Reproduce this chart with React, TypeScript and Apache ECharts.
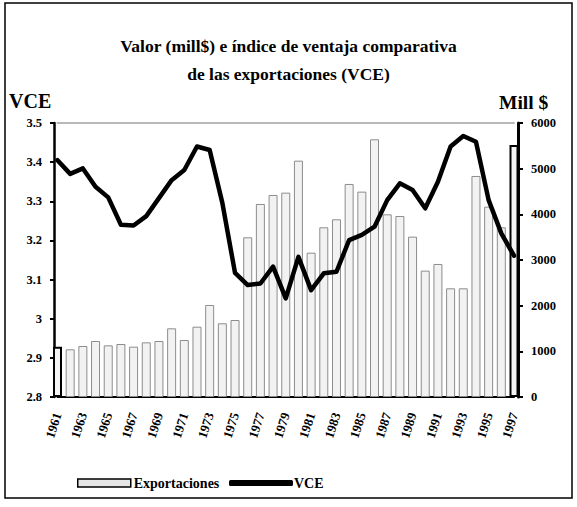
import React, { useEffect, useRef } from "react";
import * as echarts from "echarts";

const years = [
  "1961", "1962", "1963", "1964", "1965", "1966", "1967", "1968", "1969", "1970",
  "1971", "1972", "1973", "1974", "1975", "1976", "1977", "1978", "1979", "1980",
  "1981", "1982", "1983", "1984", "1985", "1986", "1987", "1988", "1989", "1990",
  "1991", "1992", "1993", "1994", "1995", "1996", "1997",
];

const exportaciones = [
  1102, 1044, 1117, 1226, 1131, 1160, 1102, 1197, 1226, 1504,
  1248, 1540, 2015, 1614, 1686, 3497, 4227, 4424, 4475, 5175,
  3160, 3716, 3891, 4665, 4497, 5643, 4000, 3964, 3511, 2767,
  2913, 2380, 2380, 4840, 4168, 3716, 5519,
];

const vce = [
  3.405, 3.37, 3.384, 3.337, 3.31, 3.24, 3.238, 3.262, 3.308, 3.354,
  3.38, 3.44, 3.431, 3.296, 3.117, 3.086, 3.09, 3.133, 3.052, 3.158,
  3.073, 3.116, 3.12, 3.201, 3.214, 3.235, 3.303, 3.346, 3.329, 3.282,
  3.35, 3.44, 3.467, 3.452, 3.303, 3.218, 3.161,
];

const titleLines = ["Valor (mill$) e índice de ventaja comparativa", "de las exportaciones (VCE)"];
const leftAxisName = "VCE";
const rightAxisName = "Mill $";

const FONT = "'Liberation Serif', 'Times New Roman', serif";

export default function App() {
  const ref = useRef<HTMLDivElement>(null);

  useEffect(() => {
    if (!ref.current) return;
    const chart = echarts.init(ref.current, undefined, { renderer: "svg" });
    const last = exportaciones.length - 1;
    const barData = exportaciones.map((v, i) =>
      i === 0 || i === last
        ? { value: v, itemStyle: { borderColor: "#000", borderWidth: 2, color: "#f4f4f4" } }
        : v
    );

    chart.setOption({
      animation: false,
      backgroundColor: "#fff",
      textStyle: { fontFamily: FONT },
      title: {
        text: titleLines.join("\n"),
        left: "center",
        top: 27,
        textStyle: {
          fontFamily: FONT,
          fontWeight: "bold",
          fontSize: 17.5,
          lineHeight: 28,
          color: "#000",
        },
      },
      graphic: [
        {
          type: "rect",
          shape: { x: 5, y: 3, width: 567, height: 495 },
          style: { fill: "none", stroke: "#000", lineWidth: 1.5 },
          silent: true,
        },
        {
          type: "text",
          x: 9,
          y: 101,
          style: {
            text: leftAxisName,
            font: `bold 20px ${FONT}`,
            fill: "#000",
            textVerticalAlign: "middle",
          },
        },
        {
          type: "text",
          x: 499,
          y: 102,
          style: {
            text: rightAxisName,
            font: `bold 19.5px ${FONT}`,
            fill: "#000",
            textVerticalAlign: "middle",
          },
        },
      ],
      legend: [
        {
          data: ["Exportaciones"],
          left: 72,
          top: 471,
          itemWidth: 53,
          itemHeight: 8,
          itemGap: 0,
          icon: "rect",
          itemStyle: { borderColor: "#000", borderWidth: 1.5, color: "#e6e6e6" },
          textStyle: { fontFamily: FONT, fontWeight: "bold", fontSize: 14, color: "#000", padding: [0, 0, 0, -2] },
        },
        {
          data: ["VCE"],
          left: 224,
          top: 471,
          itemWidth: 64,
          itemHeight: 6,
          icon: "roundRect",
          itemStyle: { color: "#000" },
          textStyle: { fontFamily: FONT, fontWeight: "bold", fontSize: 14, color: "#000", padding: [0, 0, 0, -4] },
        },
      ],
      grid: { left: 57.5, right: 63, top: 123, bottom: 110, containLabel: false },
      xAxis: [
        {
          type: "category",
          data: years,
          boundaryGap: false,
          axisLine: { show: true, lineStyle: { color: "#000", width: 2 } },
          axisTick: { show: false },
          axisLabel: {
            interval: 1,
            rotate: 72,
            margin: 16,
            fontFamily: FONT,
            fontWeight: "bold",
            fontSize: 13,
            color: "#000",
          },
          splitLine: { show: false },
        },
        {
          type: "category",
          data: years,
          boundaryGap: false,
          position: "top",
          axisLine: { show: true, lineStyle: { color: "#b8b8b8", width: 2 } },
          axisTick: { show: false },
          axisLabel: { show: false },
          splitLine: { show: false },
        },
      ],
      yAxis: [
        {
          type: "value",
          min: 2.8,
          max: 3.5,
          interval: 0.1,
          position: "left",
          offset: 3.5,
          axisLine: { show: true, lineStyle: { color: "#000", width: 2.5 } },
          axisTick: { show: true, length: 4, inside: false, lineStyle: { color: "#000", width: 2 } },
          axisLabel: {
            margin: 12,
            fontFamily: FONT,
            fontWeight: "bold",
            fontSize: 12.5,
            color: "#000",
            formatter: (v: number) => String(Math.round(v * 10) / 10),
          },
          splitLine: { show: false },
        },
        {
          type: "value",
          min: 0,
          max: 6000,
          interval: 1000,
          position: "right",
          offset: 4,
          axisLine: { show: true, lineStyle: { color: "#000", width: 3 } },
          axisTick: { show: true, length: 5, inside: false, lineStyle: { color: "#000", width: 2 } },
          axisLabel: {
            margin: 13,
            fontFamily: FONT,
            fontWeight: "bold",
            fontSize: 12.5,
            color: "#000",
            formatter: (v: number) => String(Math.round(v)),
          },
          splitLine: { show: false },
        },
      ],
      series: [
        {
          name: "Exportaciones",
          type: "bar",
          yAxisIndex: 1,
          xAxisIndex: 0,
          data: barData,
          barWidth: 9,
          clip: false,
          itemStyle: { color: "#f2f2f2", borderColor: "#8c8c8c", borderWidth: 1 },
          z: 1,
        },
        {
          name: "VCE",
          type: "line",
          yAxisIndex: 0,
          xAxisIndex: 0,
          data: vce,
          showSymbol: false,
          symbol: "none",
          lineStyle: { color: "#000", width: 4.5, join: "round", cap: "round" },
          itemStyle: { color: "#000" },
          z: 3,
        },
      ],
    });

    return () => chart.dispose();
  }, []);

  return (
    <div
      ref={ref}
      style={{ position: "absolute", left: 0, top: 0, width: 577, height: 507 }}
    />
  );
}
